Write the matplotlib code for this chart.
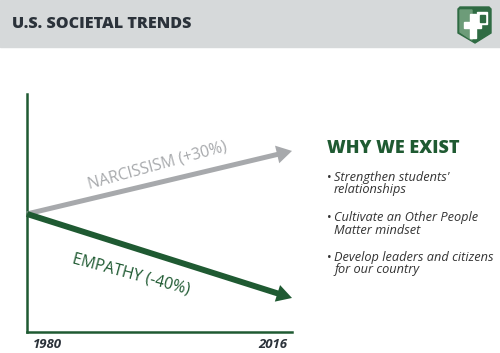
import matplotlib.pyplot as plt
from matplotlib.patches import Rectangle, Polygon

# data
years = [1980, 2016]
narcissism = [0, 30]
empathy = [0, -40]
series_labels = ['NARCISSISM (+30%)', 'EMPATHY (-40%)']
header = 'U.S. SOCIETAL TRENDS'
side_title = 'WHY WE EXIST'
bullets = [["Strengthen students'", "relationships"],
           ["Cultivate an Other People", "Matter mindset"],
           ["Develop leaders and citizens", "for our country"]]

green = '#1f5a32'
grey = '#a7a9ac'
dark = '#2b323a'
W, H = 500, 353

plt.rcParams['font.family'] = ['Open Sans', 'DejaVu Sans']
fig = plt.figure(figsize=(W / 100, H / 100), dpi=100)

# header band
fig.patches.append(Rectangle((0, 1 - 47 / H), 1, 47 / H, transform=fig.transFigure,
                             color='#d6d9da', zorder=-1))
fig.text(12 / W, 1 - 24 / H, header, fontsize=11.6, fontweight='heavy', color=dark,
         va='center', ha='left')

# logo
lg = fig.add_axes([454 / W, 1 - 46 / H, 42 / W, 42 / H])
lg.set_xlim(454, 496)
lg.set_ylim(46, 4)
lg.axis('off')
lg.add_patch(Polygon([(458, 9), (460, 7), (489, 7), (491, 9), (491, 33), (475, 43), (458, 33)],
                     closed=True, color='#2f6b43'))
lg.add_patch(Polygon([(460, 10), (472, 10), (472, 40), (460, 32)], closed=True, color='#6d9c79'))
lg.add_patch(Rectangle((464, 22), 17, 6, color='white'))
lg.add_patch(Rectangle((470, 14), 6, 24, color='white'))
lg.add_patch(Rectangle((477, 12), 10, 12, color='white'))
lg.add_patch(Rectangle((479.5, 14.5), 5, 7, color='#2f6b43'))

# chart
ax = fig.add_axes([27 / W, 21 / H, 265 / W, 238 / H])
ax.set_xlim(years[0], years[1])
ax.set_ylim(-56.2, 57.1)
for s in ['top', 'right']:
    ax.spines[s].set_visible(False)
for s in ['left', 'bottom']:
    ax.spines[s].set_color(green)
    ax.spines[s].set_linewidth(1.8)
ax.set_xticks([])
ax.set_yticks([])
ax.patch.set_alpha(0)

ax.annotate('', xy=(years[1], narcissism[1]), xytext=(years[0], narcissism[0]),
            arrowprops=dict(arrowstyle='simple,head_length=1.1,head_width=1.3,tail_width=0.36',
                            color=grey, lw=0, shrinkA=0, shrinkB=0, mutation_scale=10))
ax.annotate('', xy=(years[1], empathy[1]), xytext=(years[0], empathy[0]),
            arrowprops=dict(arrowstyle='simple,head_length=1.1,head_width=1.25,tail_width=0.43',
                            color=green, lw=0, shrinkA=0, shrinkB=0, mutation_scale=10))

ax.text(1997.7, 22.9, series_labels[0], rotation=15.5, color=grey, fontsize=11.3,
        ha='center', va='center', rotation_mode='anchor')
ax.text(1994.1, -28.6, series_labels[1], rotation=-15, color=green, fontsize=11.3,
        ha='center', va='center', rotation_mode='anchor')

ax.annotate(str(years[0]), xy=(years[0], 0), xycoords=('data', 'axes fraction'),
            xytext=(6, -12), textcoords='offset pixels', ha='left', va='center',
            fontsize=9.5, fontweight='bold', fontstyle='italic', color=dark)
ax.annotate(str(years[1]), xy=(years[1], 0), xycoords=('data', 'axes fraction'),
            xytext=(-5, -12), textcoords='offset pixels', ha='right', va='center',
            fontsize=9.5, fontweight='bold', fontstyle='italic', color=dark)

# side text
fig.text(327 / W, 1 - 148 / H, side_title, fontsize=13, fontweight='heavy', color=green,
         va='center', ha='left')
for i, lines in enumerate(bullets):
    y0 = 177 + 40 * i
    fig.text(327 / W, 1 - y0 / H, '\u2022', fontsize=9, color='#333333', va='center', ha='left')
    for j, line in enumerate(lines):
        fig.text(334 / W, 1 - (y0 + 13 * j) / H, line, fontsize=9.2, fontstyle='italic',
                 color='#333333', va='center', ha='left')

fig.savefig('out.png', dpi=100)
